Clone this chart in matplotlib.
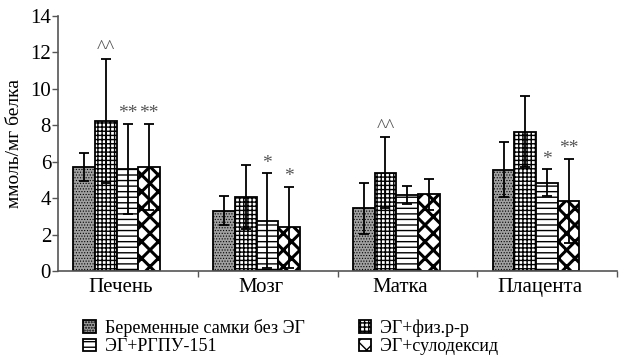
import numpy as np
import matplotlib
import matplotlib.pyplot as plt

matplotlib.use("Agg")

categories = ["Печень", "Мозг", "Матка", "Плацента"]
labels = ["Беременные самки без ЭГ", "ЭГ+физ.р-р", "ЭГ+РГПУ-151", "ЭГ+сулодексид"]

# means
pregnant = [5.7, 3.3, 3.45, 5.55]
saline = [8.25, 4.05, 5.4, 7.65]
rgpu = [5.6, 2.75, 4.15, 4.85]
sulodexide = [5.7, 2.4, 4.2, 3.85]

# error (sd)
pregnant_err = [0.77, 0.8, 1.4, 1.5]
saline_err = [3.4, 1.75, 1.95, 1.95]
rgpu_err = [2.47, 2.6, 0.5, 0.73]
sulodexide_err = [2.37, 2.22, 0.87, 2.3]

# significance marks
pregnant_marks = ["", "", "", ""]
saline_marks = ["^^", "", "^^", ""]
rgpu_marks = ["**", "*", "", "*"]
sulodexide_marks = ["**", "*", "", "**"]


def main():
    plt.rcParams["font.family"] = ["Liberation Serif", "DejaVu Serif"]
    plt.rcParams["hatch.linewidth"] = 1.0

    fig = plt.figure(figsize=(6.24, 3.58), dpi=100)
    ax = fig.add_axes([0.093, 0.243, 0.896, 0.713])

    means = [pregnant, saline, rgpu, sulodexide]
    errs = [pregnant_err, saline_err, rgpu_err, sulodexide_err]
    marks = [pregnant_marks, saline_marks, rgpu_marks, sulodexide_marks]
    styles = [
        dict(facecolor="#a0a0a0", hatch="......", hlw=0.5),
        dict(facecolor="white", hatch="++++", hlw=1.0),
        dict(facecolor="white", hatch="---", hlw=1.0),
        dict(facecolor="white", hatch="xx", hlw=2.2),
    ]

    x = np.arange(len(categories))
    width = 0.155
    shift = -0.08
    handles = []
    for i in range(4):
        pos = x + shift + (i - 1.5) * width
        st = styles[i]
        bars = ax.bar(pos, means[i], width, facecolor=st["facecolor"],
                      edgecolor="black", linewidth=1.3, hatch=st["hatch"],
                      zorder=2)
        for b in bars:
            if hasattr(b, "set_hatch_linewidth"):
                b.set_hatch_linewidth(st["hlw"])
        handles.append(bars)
        ax.errorbar(pos, means[i], yerr=errs[i], fmt="none", ecolor="black",
                    elinewidth=1.3, capsize=3.5, capthick=1.3, zorder=3)
        for p, m, e, t in zip(pos, means[i], errs[i], marks[i]):
            if t:
                ax.annotate(t, (p, m + e), xytext=(0, 1),
                            textcoords="offset points", ha="center",
                            va="bottom", fontsize=14, color="#555555")

    ax.set_xlim(-0.5, 3.5)
    ax.set_ylim(0, 14)
    ax.set_yticks(range(0, 15, 2))
    ax.set_xticks([0.5, 1.5, 2.5, 3.5])
    ax.set_xticklabels([])
    ax.set_xticks(x - 0.05, minor=True)
    ax.set_xticklabels(categories, minor=True, fontsize=15)
    ax.tick_params(axis="x", which="minor", length=0, pad=5)
    ax.tick_params(axis="x", which="major", length=4, width=1, color="#555555")
    ax.tick_params(axis="y", length=4, width=1, color="#555555",
                   labelsize=15, pad=1)
    for s in ["top", "right"]:
        ax.spines[s].set_visible(False)
    for s in ["left", "bottom"]:
        ax.spines[s].set_color("#555555")
        ax.spines[s].set_linewidth(1.2)
    ax.set_ylabel("ммоль/мг белка", fontsize=14, labelpad=5)

    # row-wise legend: matplotlib fills columns first
    order = [0, 2, 1, 3]
    fig.legend([handles[k] for k in order], [labels[k] for k in order],
               ncol=2, loc="lower left", bbox_to_anchor=(0.107, -0.038),
               frameon=False, fontsize=13, handlelength=0.7,
               handleheight=0.7, handletextpad=0.5, columnspacing=3.0,
               labelspacing=0.1)

    fig.savefig("out.png", dpi=100)


if __name__ == "__main__":
    main()
